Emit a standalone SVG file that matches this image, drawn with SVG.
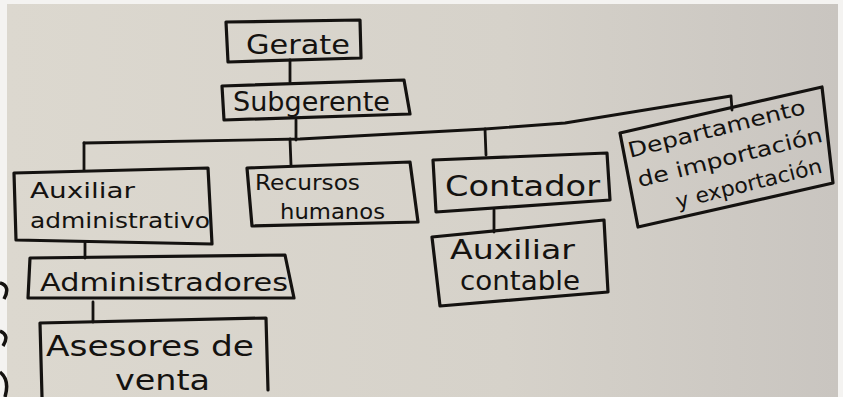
<svg xmlns="http://www.w3.org/2000/svg" width="843" height="397" viewBox="0 0 843 397">
  <defs>
    <linearGradient id="paper" x1="0" y1="0" x2="1" y2="0">
      <stop offset="0" stop-color="#dcd8cf"/>
      <stop offset="0.6" stop-color="#d6d2ca"/>
      <stop offset="1" stop-color="#c9c5c0"/>
    </linearGradient>
    <style>
      .box { fill: none; stroke: #141210; stroke-width: 3.2; stroke-linejoin: round; stroke-linecap: round; }
      .link { fill: none; stroke: #141210; stroke-width: 2.8; stroke-linecap: round; stroke-linejoin: round; }
      .hand { font-family: "DejaVu Sans", "Liberation Sans", sans-serif; fill: #141210; }
    </style>
  </defs>

  <!-- sheet and its margins -->
  <rect x="0" y="0" width="843" height="397" fill="#f4f3f1"/>
  <rect x="7" y="4" width="831" height="393" fill="url(#paper)"/>
  <path d="M0 283 q11 3 4 16 M0 331 q10 4 3 15 M0 372 q10 8 5 25" fill="none" stroke="#141210" stroke-width="3.5"/>

  <g id="connectors">
    <path class="link" d="M290 60 L290 82"/>
    <path class="link" d="M296 120 L296 140"/>
    <path class="link" d="M84 143 L300 139 L485 129 L565 123 L731 96 L732 110"/>
    <path class="link" d="M84 143 L84 170"/>
    <path class="link" d="M290 139 L291 165"/>
    <path class="link" d="M485 129 L486 155"/>
    <path class="link" d="M494 210 L494 232"/>
    <path class="link" d="M85 243 L85 258"/>
    <path class="link" d="M93 302 L93 322"/>
  </g>

  <g id="gerente">
    <path class="box" d="M226 22 L360 20 L361 58 L228 62 Z"/>
    <text class="hand" x="246" y="54" font-size="27" textLength="104" lengthAdjust="spacingAndGlyphs">Gerate</text>
  </g>

  <g id="subgerente">
    <path class="box" d="M222 86 L404 80 L410 114 L224 120 Z"/>
    <text class="hand" x="233" y="111" font-size="26" textLength="157" lengthAdjust="spacingAndGlyphs">Subgerente</text>
  </g>

  <g id="auxiliar-administrativo">
    <path class="box" d="M14 173 L208 168 L212 244 L16 240 Z"/>
    <text class="hand" x="30" y="198" font-size="22" textLength="105" lengthAdjust="spacingAndGlyphs">Auxiliar</text>
    <text class="hand" x="30" y="228" font-size="22" textLength="180" lengthAdjust="spacingAndGlyphs">administrativo</text>
  </g>

  <g id="recursos-humanos">
    <path class="box" d="M247 168 L410 162 L418 222 L252 226 Z"/>
    <text class="hand" x="255" y="190" font-size="21" textLength="105" lengthAdjust="spacingAndGlyphs">Recursos</text>
    <text class="hand" x="280" y="219" font-size="21" textLength="105" lengthAdjust="spacingAndGlyphs">humanos</text>
  </g>

  <g id="contador">
    <path class="box" d="M433 160 L607 153 L610 200 L436 212 Z"/>
    <text class="hand" x="445" y="196" font-size="29" textLength="155" lengthAdjust="spacingAndGlyphs">Contador</text>
  </g>

  <g id="departamento">
    <path class="box" d="M620 133 L822 87 L833 183 L638 227 Z"/>
    <g transform="rotate(-14 728 158)">
      <text class="hand" x="724" y="134" font-size="21" text-anchor="middle" textLength="182" lengthAdjust="spacingAndGlyphs">Departamento</text>
      <text class="hand" x="730" y="165" font-size="21" text-anchor="middle" textLength="190" lengthAdjust="spacingAndGlyphs">de importación</text>
      <text class="hand" x="742" y="195" font-size="21" text-anchor="middle" textLength="150" lengthAdjust="spacingAndGlyphs">y exportación</text>
    </g>
  </g>

  <g id="auxiliar-contable">
    <path class="box" d="M432 237 L604 220 L608 292 L440 306 Z"/>
    <text class="hand" x="450" y="259" font-size="26" textLength="125" lengthAdjust="spacingAndGlyphs">Auxiliar</text>
    <text class="hand" x="460" y="290" font-size="26" textLength="120" lengthAdjust="spacingAndGlyphs">contable</text>
  </g>

  <g id="administradores">
    <path class="box" d="M30 258 L285 255 L294 298 L28 298 Z"/>
    <text class="hand" x="40" y="291" font-size="25" textLength="248" lengthAdjust="spacingAndGlyphs">Administradores</text>
  </g>

  <g id="asesores-de-venta">
    <path class="box" d="M40 323 L266 318 L268 390 M40 323 L42 397"/>
    <text class="hand" x="46" y="356" font-size="29" textLength="208" lengthAdjust="spacingAndGlyphs">Asesores de</text>
    <text class="hand" x="115" y="390" font-size="28" textLength="95" lengthAdjust="spacingAndGlyphs">venta</text>
  </g>
</svg>
